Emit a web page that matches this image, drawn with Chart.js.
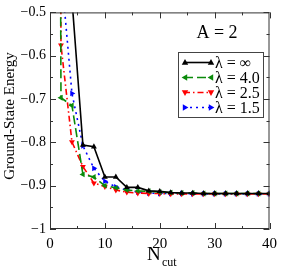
<!DOCTYPE html>
<html>
<head>
<meta charset="utf-8">
<script src="https://cdn.jsdelivr.net/npm/chart.js"></script>
<style>
  html, body { margin: 0; padding: 0; background: #fff; }
  #wrap { width: 283px; height: 267px; }
</style>
</head>
<body>
<div id="wrap"><canvas id="chart" width="283" height="267"></canvas></div>
<script>
// N_cut values (x = 1 only carries the steep start of two curves, far above the axis)
const ncut = [1, 2, 4, 6, 8, 10, 12, 14, 16, 18, 20, 22, 24, 26, 28, 30, 32, 34, 36, 38, 40];
const eInf = [null, -0.20, -0.47, -0.806, -0.81, -0.88, -0.88, -0.904, -0.904, -0.912, -0.913, -0.916, -0.917, -0.917, -0.918, -0.918, -0.918, -0.918, -0.918, -0.918, -0.918];
const e40  = [3.0, -0.697, -0.715, -0.874, -0.88, -0.90, -0.905, -0.91, -0.912, -0.913, -0.915, -0.916, -0.917, -0.917, -0.918, -0.918, -0.918, -0.918, -0.918, -0.918, -0.918];
const e25  = [3.0, -0.576, -0.799, -0.856, -0.894, -0.902, -0.91, -0.915, -0.917, -0.918, -0.918, -0.919, -0.919, -0.919, -0.919, -0.919, -0.919, -0.919, -0.919, -0.919, -0.919];
const e15  = [null, -0.40, -0.687, -0.808, -0.86, -0.89, -0.903, -0.91, -0.915, -0.917, -0.918, -0.918, -0.918, -0.919, -0.919, -0.919, -0.919, -0.919, -0.919, -0.919, -0.919];
const xTicks = [0, 10, 20, 30, 40];
const yTicks = [-1, -0.9, -0.8, -0.7, -0.6, -0.5];

const serif = '"Liberation Serif", "DejaVu Serif", serif';
const pts = arr => ncut.map((x, i) => ({ x, y: arr[i] }));

function series(label, arr, color, dash, rot) {
  return {
    label, data: pts(arr), borderColor: color, backgroundColor: color,
    borderWidth: 1.6, borderDash: dash, pointStyle: 'triangle', pointRotation: rot,
    pointRadius: 3.4, pointBorderWidth: 0, tension: 0, spanGaps: false
  };
}

function tri(ctx, x, y, r, rot, color) {
  ctx.save();
  ctx.translate(x, y);
  ctx.rotate(rot * Math.PI / 180);
  ctx.beginPath();
  ctx.moveTo(0, -r);
  ctx.lineTo(r * 0.95, r * 0.65);
  ctx.lineTo(-r * 0.95, r * 0.65);
  ctx.closePath();
  ctx.fillStyle = color;
  ctx.fill();
  ctx.restore();
}

const decor = {
  id: 'decor',
  afterDraw(chart) {
    const { ctx, chartArea: a, scales } = chart;
    const xs = scales.x, ys = scales.y;
    ctx.save();
    ctx.strokeStyle = '#333';
    ctx.lineWidth = 1;
    ctx.strokeRect(a.left + 0.5, a.top + 0.5, a.right - a.left - 1, a.bottom - a.top - 1);
    // inward ticks on all four sides
    ctx.beginPath();
    for (let v = 0; v <= 40; v += 5) {
      const px = Math.round(xs.getPixelForValue(v)) + 0.5;
      const len = v % 10 === 0 ? 6 : 3;
      ctx.moveTo(px, a.bottom); ctx.lineTo(px, a.bottom - len);
      ctx.moveTo(px, a.top); ctx.lineTo(px, a.top + len);
    }
    for (let k = 0; k <= 10; k++) {
      const v = -1 + k * 0.05;
      const py = Math.round(ys.getPixelForValue(v)) + 0.5;
      const len = k % 2 === 0 ? 6 : 3;
      ctx.moveTo(a.left, py); ctx.lineTo(a.left + len, py);
      ctx.moveTo(a.right, py); ctx.lineTo(a.right - len, py);
    }
    ctx.stroke();

    // axis titles
    ctx.fillStyle = '#000';
    ctx.font = '15px ' + serif;
    ctx.textAlign = 'center';
    ctx.textBaseline = 'alphabetic';
    ctx.save();
    ctx.translate(14, 116);
    ctx.rotate(-Math.PI / 2);
    ctx.fillText('Ground-State Energy', 0, 0);
    ctx.restore();

    ctx.textAlign = 'left';
    ctx.font = '19px ' + serif;
    ctx.fillText('N', 147, 260);
    ctx.font = '12px ' + serif;
    ctx.fillText('cut', 162, 266);

    ctx.font = '18px ' + serif;
    ctx.textAlign = 'center';
    ctx.fillText('A = 2', 217, 38);

    // legend
    const bx = 178, by = 52, bw = 85, bh = 65;
    ctx.fillStyle = '#fff';
    ctx.fillRect(bx, by, bw, bh);
    ctx.strokeStyle = '#444';
    ctx.strokeRect(bx + 0.5, by + 0.5, bw, bh);
    ctx.font = '16px ' + serif;
    ctx.textAlign = 'left';
    ctx.textBaseline = 'middle';
    chart.data.datasets.forEach((ds, i) => {
      const y = 62.5 + i * 15;
      ctx.save();
      ctx.strokeStyle = ds.borderColor;
      ctx.lineWidth = ds.borderWidth;
      ctx.setLineDash(ds.borderDash || []);
      ctx.beginPath();
      ctx.moveTo(184, y); ctx.lineTo(212, y);
      ctx.stroke();
      ctx.restore();
      tri(ctx, 185, y, 3.4, ds.pointRotation, ds.borderColor);
      tri(ctx, 211, y, 3.4, ds.pointRotation, ds.borderColor);
      ctx.fillStyle = '#000';
      ctx.fillText(ds.label, 215, y + 1);
    });
    ctx.restore();
  }
};

new Chart(document.getElementById('chart'), {
  type: 'line',
  data: {
    datasets: [
      series('λ = ∞', eInf, '#000000', [], 0),
      series('λ = 4.0', e40, '#0a8a0a', [9, 4], -90),
      series('λ = 2.5', e25, '#ff0000', [6, 3, 1.5, 3], 180),
      series('λ = 1.5', e15, '#0000ff', [2, 4], 90)
    ]
  },
  options: {
    responsive: false,
    animation: false,
    layout: { padding: { top: 6, right: 9, left: 0, bottom: 0 } },
    plugins: { legend: { display: false }, tooltip: { enabled: false } },
    scales: {
      x: {
        type: 'linear', min: 0, max: 40,
        afterBuildTicks: s => { s.ticks = xTicks.map(v => ({ value: v })); },
        afterFit: s => { s.height = 38; },
        grid: { display: false, drawTicks: false },
        border: { display: false },
        ticks: { color: '#000', padding: 6, font: { family: serif, size: 15 }, maxRotation: 0 }
      },
      y: {
        type: 'linear', min: -1, max: -0.5,
        afterBuildTicks: s => { s.ticks = yTicks.map(v => ({ value: v })); },
        afterFit: s => { s.width = 50; },
        grid: { display: false, drawTicks: false },
        border: { display: false },
        ticks: {
          color: '#000', padding: 4, font: { family: serif, size: 14 },
          callback: v => (v < 0 ? '\u2212' : '') + (Math.abs(v) === 1 ? '1' : Math.abs(v).toFixed(1))
        }
      }
    }
  },
  plugins: [decor]
});
</script>
</body>
</html>
